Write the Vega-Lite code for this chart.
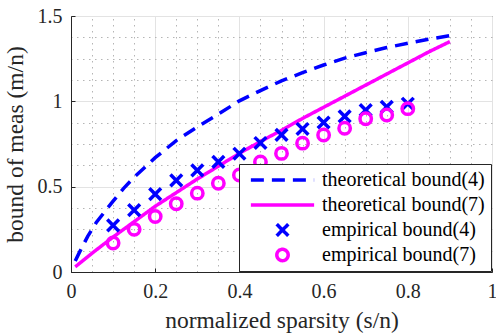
{
  "$schema": "https://vega.github.io/schema/vega-lite/v6.json",
  "width": 421,
  "height": 256,
  "autosize": "none",
  "padding": {"left": 71, "top": 16, "right": 4, "bottom": 63},
  "background": "white",
  "config": {
    "font": "Liberation Serif",
    "view": {"stroke": "#262626", "strokeWidth": 1},
    "axis": {
      "domainColor": "#262626",
      "tickColor": "#262626",
      "labelColor": "#262626",
      "titleColor": "#262626",
      "labelFont": "Liberation Serif",
      "titleFont": "Liberation Serif",
      "labelFontSize": 20,
      "titleFontSize": 23.5,
      "titleFontWeight": "normal",
      "labelFlush": false,
      "labelOverlap": false,
      "gridColor": "#e3e3e3",
      "gridWidth": 1
    },
    "legend": {
      "orient": "bottom-right",
      "offset": 1,
      "padding": 6,
      "rowPadding": 5,
      "clipHeight": 20,
      "strokeColor": "#262626",
      "fillColor": "white",
      "cornerRadius": 0,
      "labelFont": "Liberation Serif",
      "labelFontSize": 20,
      "labelColor": "#000000",
      "labelLimit": 400,
      "labelOffset": 6,
      "symbolSize": 4000,
      "symbolStrokeWidth": 3.5,
      "symbolOffset": 4
    }
  },
  "datasets": {
    "curves": [
      {"x": 0.01, "y": 0.065, "series": "theoretical bound(4)"},
      {"x": 0.02, "y": 0.115, "series": "theoretical bound(4)"},
      {"x": 0.04, "y": 0.21, "series": "theoretical bound(4)"},
      {"x": 0.06, "y": 0.29, "series": "theoretical bound(4)"},
      {"x": 0.08, "y": 0.353, "series": "theoretical bound(4)"},
      {"x": 0.1, "y": 0.415, "series": "theoretical bound(4)"},
      {"x": 0.125, "y": 0.49, "series": "theoretical bound(4)"},
      {"x": 0.15, "y": 0.555, "series": "theoretical bound(4)"},
      {"x": 0.2, "y": 0.67, "series": "theoretical bound(4)"},
      {"x": 0.25, "y": 0.77, "series": "theoretical bound(4)"},
      {"x": 0.3, "y": 0.85, "series": "theoretical bound(4)"},
      {"x": 0.35, "y": 0.925, "series": "theoretical bound(4)"},
      {"x": 0.4, "y": 1.003, "series": "theoretical bound(4)"},
      {"x": 0.45, "y": 1.063, "series": "theoretical bound(4)"},
      {"x": 0.5, "y": 1.12, "series": "theoretical bound(4)"},
      {"x": 0.55, "y": 1.168, "series": "theoretical bound(4)"},
      {"x": 0.6, "y": 1.213, "series": "theoretical bound(4)"},
      {"x": 0.65, "y": 1.253, "series": "theoretical bound(4)"},
      {"x": 0.7, "y": 1.285, "series": "theoretical bound(4)"},
      {"x": 0.75, "y": 1.315, "series": "theoretical bound(4)"},
      {"x": 0.8, "y": 1.34, "series": "theoretical bound(4)"},
      {"x": 0.85, "y": 1.364, "series": "theoretical bound(4)"},
      {"x": 0.9, "y": 1.385, "series": "theoretical bound(4)"},
      {"x": 0.01, "y": 0.03, "series": "theoretical bound(7)"},
      {"x": 0.05, "y": 0.11, "series": "theoretical bound(7)"},
      {"x": 0.1, "y": 0.205, "series": "theoretical bound(7)"},
      {"x": 0.15, "y": 0.295, "series": "theoretical bound(7)"},
      {"x": 0.2, "y": 0.385, "series": "theoretical bound(7)"},
      {"x": 0.25, "y": 0.465, "series": "theoretical bound(7)"},
      {"x": 0.3, "y": 0.545, "series": "theoretical bound(7)"},
      {"x": 0.35, "y": 0.62, "series": "theoretical bound(7)"},
      {"x": 0.4, "y": 0.695, "series": "theoretical bound(7)"},
      {"x": 0.45, "y": 0.765, "series": "theoretical bound(7)"},
      {"x": 0.5, "y": 0.83, "series": "theoretical bound(7)"},
      {"x": 0.55, "y": 0.9, "series": "theoretical bound(7)"},
      {"x": 0.6, "y": 0.965, "series": "theoretical bound(7)"},
      {"x": 0.65, "y": 1.03, "series": "theoretical bound(7)"},
      {"x": 0.7, "y": 1.095, "series": "theoretical bound(7)"},
      {"x": 0.75, "y": 1.16, "series": "theoretical bound(7)"},
      {"x": 0.8, "y": 1.225, "series": "theoretical bound(7)"},
      {"x": 0.85, "y": 1.29, "series": "theoretical bound(7)"},
      {"x": 0.9, "y": 1.35, "series": "theoretical bound(7)"}
    ],
    "points": [
      {"x": 0.1, "y": 0.273, "series": "empirical bound(4)"},
      {"x": 0.15, "y": 0.363, "series": "empirical bound(4)"},
      {"x": 0.2, "y": 0.456, "series": "empirical bound(4)"},
      {"x": 0.25, "y": 0.537, "series": "empirical bound(4)"},
      {"x": 0.3, "y": 0.595, "series": "empirical bound(4)"},
      {"x": 0.35, "y": 0.645, "series": "empirical bound(4)"},
      {"x": 0.4, "y": 0.693, "series": "empirical bound(4)"},
      {"x": 0.45, "y": 0.756, "series": "empirical bound(4)"},
      {"x": 0.5, "y": 0.803, "series": "empirical bound(4)"},
      {"x": 0.55, "y": 0.838, "series": "empirical bound(4)"},
      {"x": 0.6, "y": 0.876, "series": "empirical bound(4)"},
      {"x": 0.65, "y": 0.912, "series": "empirical bound(4)"},
      {"x": 0.7, "y": 0.948, "series": "empirical bound(4)"},
      {"x": 0.75, "y": 0.968, "series": "empirical bound(4)"},
      {"x": 0.8, "y": 0.986, "series": "empirical bound(4)"},
      {"x": 0.1, "y": 0.17, "series": "empirical bound(7)"},
      {"x": 0.15, "y": 0.25, "series": "empirical bound(7)"},
      {"x": 0.2, "y": 0.325, "series": "empirical bound(7)"},
      {"x": 0.25, "y": 0.4, "series": "empirical bound(7)"},
      {"x": 0.3, "y": 0.462, "series": "empirical bound(7)"},
      {"x": 0.35, "y": 0.52, "series": "empirical bound(7)"},
      {"x": 0.4, "y": 0.568, "series": "empirical bound(7)"},
      {"x": 0.45, "y": 0.645, "series": "empirical bound(7)"},
      {"x": 0.5, "y": 0.695, "series": "empirical bound(7)"},
      {"x": 0.55, "y": 0.755, "series": "empirical bound(7)"},
      {"x": 0.6, "y": 0.803, "series": "empirical bound(7)"},
      {"x": 0.65, "y": 0.842, "series": "empirical bound(7)"},
      {"x": 0.7, "y": 0.898, "series": "empirical bound(7)"},
      {"x": 0.75, "y": 0.92, "series": "empirical bound(7)"},
      {"x": 0.8, "y": 0.957, "series": "empirical bound(7)"}
    ]
  },
  "resolve": {"axis": {"x": "independent", "y": "independent"}},
  "layer": [
    {
      "data": {"name": "curves"},
      "mark": {"type": "line", "strokeWidth": 3.5, "clip": true},
      "encoding": {
        "x": {
          "field": "x", "type": "quantitative",
          "scale": {"domain": [0, 1], "nice": false, "zero": false},
          "axis": {
            "orient": "bottom",
            "title": "normalized sparsity (s/n)",
            "values": [0, 0.2, 0.4, 0.6, 0.8, 1],
            "format": "~g",
            "grid": true,
            "tickSize": -4,
            "labelPadding": 13,
            "titlePadding": 7
          }
        },
        "y": {
          "field": "y", "type": "quantitative",
          "scale": {"domain": [0, 1.5], "nice": false, "zero": false},
          "axis": {
            "orient": "left",
            "title": "bound of meas (m/n)",
            "values": [0, 0.5, 1, 1.5],
            "format": "~g",
            "grid": true,
            "tickSize": -4,
            "labelPadding": 13,
            "titlePadding": 10
          }
        },
        "color": {
          "field": "series", "type": "nominal", "title": null,
          "scale": {
            "domain": ["theoretical bound(4)", "theoretical bound(7)", "empirical bound(4)", "empirical bound(7)"],
            "range": ["#0000ff", "#ff00ff", "#0000ff", "#ff00ff"]
          }
        },
        "strokeDash": {
          "field": "series", "type": "nominal", "title": null,
          "scale": {
            "domain": ["theoretical bound(4)", "theoretical bound(7)", "empirical bound(4)", "empirical bound(7)"],
            "range": [[13, 8], [1, 0], [1, 0], [1, 0]]
          }
        }
      }
    },
    {
      "data": {"name": "points"},
      "mark": {"type": "point", "filled": false, "strokeWidth": 3.5, "opacity": 1, "size": 4000},
      "encoding": {
        "x": {
          "field": "x", "type": "quantitative",
          "scale": {"domain": [0, 1], "nice": false, "zero": false},
          "axis": {
            "orient": "top", "title": null, "labels": false, "ticks": false, "domain": false,
            "grid": true, "gridDash": [1.5, 4.5], "gridColor": "#b5b5b5",
            "values": [0.05, 0.1, 0.15, 0.25, 0.3, 0.35, 0.45, 0.5, 0.55, 0.65, 0.7, 0.75, 0.85, 0.9, 0.95]
          }
        },
        "y": {
          "field": "y", "type": "quantitative",
          "scale": {"domain": [0, 1.5], "nice": false, "zero": false},
          "axis": {
            "orient": "right", "title": null, "labels": false, "ticks": false, "domain": false,
            "grid": true, "gridDash": [1.5, 4.5], "gridColor": "#b5b5b5",
            "values": [0.125, 0.25, 0.375, 0.625, 0.75, 0.875, 1.125, 1.25, 1.375]
          }
        },
        "color": {"field": "series", "type": "nominal", "title": null},
        "shape": {
          "field": "series", "type": "nominal", "title": null,
          "scale": {
            "domain": ["theoretical bound(4)", "theoretical bound(7)", "empirical bound(4)", "empirical bound(7)"],
            "range": ["stroke", "stroke", "M-0.185,-0.185L0.185,0.185M-0.185,0.185L0.185,-0.185", "M0.18,0A0.18,0.18 0 1,1 -0.18,0A0.18,0.18 0 1,1 0.18,0Z"]
          }
        }
      }
    }
  ]
}
